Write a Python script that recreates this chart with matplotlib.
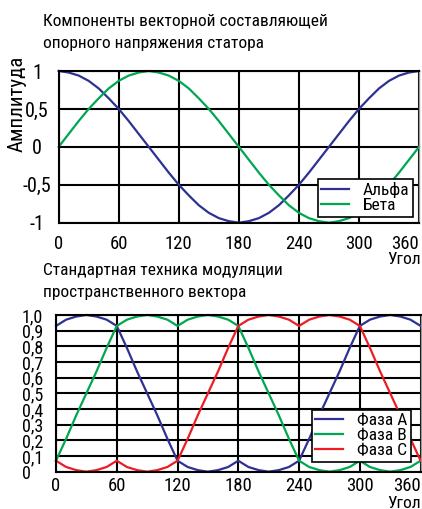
import matplotlib
matplotlib.use("Agg")
import matplotlib.pyplot as plt
from matplotlib import font_manager as fm

# pick a condensed sans with Cyrillic glyphs, whichever is installed
available = set(fm.fontManager.get_font_names())
narrow = [f for f in ["Roboto Condensed", "PT Sans Narrow", "Fira Sans Condensed",
                      "IBM Plex Sans Condensed", "Liberation Sans Narrow",
                      "Open Sans Condensed", "Arimo"] if f in available]
plt.rcParams["font.family"] = narrow[:1] + ["DejaVu Sans"]

# angles, 10 degree steps
angle = list(range(0, 361, 10))

# top panel: vector components of the stator reference voltage
alpha = [1.00, 0.98, 0.94, 0.87, 0.77, 0.64, 0.50, 0.34, 0.17, 0.00,
         -0.17, -0.34, -0.50, -0.64, -0.77, -0.87, -0.94, -0.98, -1.00,
         -0.98, -0.94, -0.87, -0.77, -0.64, -0.50, -0.34, -0.17, 0.00,
         0.17, 0.34, 0.50, 0.64, 0.77, 0.87, 0.94, 0.98, 1.00]
beta = [0.00, 0.17, 0.34, 0.50, 0.64, 0.77, 0.87, 0.94, 0.98, 1.00,
        0.98, 0.94, 0.87, 0.77, 0.64, 0.50, 0.34, 0.17, 0.00,
        -0.17, -0.34, -0.50, -0.64, -0.77, -0.87, -0.94, -0.98, -1.00,
        -0.98, -0.94, -0.87, -0.77, -0.64, -0.50, -0.34, -0.17, 0.00]

# bottom panel: space vector modulation phases
phase_a = [0.93, 0.97, 0.99, 1.00, 0.99, 0.97, 0.93, 0.79, 0.64, 0.50,
           0.36, 0.21, 0.07, 0.03, 0.01, 0.00, 0.01, 0.03, 0.07,
           0.03, 0.01, 0.00, 0.01, 0.03, 0.07, 0.21, 0.36, 0.50,
           0.64, 0.79, 0.93, 0.97, 0.99, 1.00, 0.99, 0.97, 0.93]
phase_b = [0.07, 0.21, 0.36, 0.50, 0.64, 0.79, 0.93, 0.97, 0.99, 1.00,
           0.99, 0.97, 0.93, 0.97, 0.99, 1.00, 0.99, 0.97, 0.93,
           0.79, 0.64, 0.50, 0.36, 0.21, 0.07, 0.03, 0.01, 0.00,
           0.01, 0.03, 0.07, 0.03, 0.01, 0.00, 0.01, 0.03, 0.07]
phase_c = [0.07, 0.03, 0.01, 0.00, 0.01, 0.03, 0.07, 0.03, 0.01, 0.00,
           0.01, 0.03, 0.07, 0.21, 0.36, 0.50, 0.64, 0.79, 0.93,
           0.97, 0.99, 1.00, 0.99, 0.97, 0.93, 0.97, 0.99, 1.00,
           0.99, 0.97, 0.93, 0.79, 0.64, 0.50, 0.36, 0.21, 0.07]

x_ticks = [0, 60, 120, 180, 240, 300, 360]
top_yticks = [-1, -0.5, 0, 0.5, 1]
top_ylabels = ["-1", "-0,5", "0", "0,5", "1"]
bot_yticks = [i / 10 for i in range(11)]
bot_ylabels = ["0"] + ["0,%d" % i for i in range(1, 10)] + ["1,0"]

BLUE = "#2e3192"
GREEN = "#00a651"
RED = "#ed1c24"

fig = plt.figure(figsize=(4.22, 5.09), dpi=100)


def style_axes(ax, yticks, ylabels, ylim):
    ax.set_xlim(0, 360)
    ax.set_ylim(*ylim)
    ax.set_xticks(x_ticks)
    ax.set_yticks(yticks)
    ax.set_yticklabels(ylabels)
    ax.grid(True, color="black", linewidth=1.5)
    ax.set_axisbelow(True)
    ax.tick_params(length=0)
    for side in ["left", "top", "bottom"]:
        ax.spines[side].set_linewidth(1.5)
        ax.spines[side].set_color("black")
    ax.spines["right"].set_color("#999999")
    ax.spines["right"].set_linewidth(1.0)
    ax.get_xticklabels()[-1].set_ha("right")
    ax.get_xticklabels()[-1].set_x(362)


def add_legend(ax, anchor):
    leg = ax.legend(loc="lower right", bbox_to_anchor=anchor, borderaxespad=0,
                    fontsize=12.5, fancybox=False, framealpha=1,
                    edgecolor="black", handlelength=1.6, labelspacing=0.0,
                    borderpad=0.2, handletextpad=0.8)
    leg.get_frame().set_linewidth(1.2)


# ---- top panel
ax1 = fig.add_axes([0.139, 0.5625, 0.854, 0.298])
ax1.plot(angle, alpha, color=BLUE, linewidth=1.6, label="Альфа", clip_on=False)
ax1.plot(angle, beta, color=GREEN, linewidth=1.6, label="Бета", clip_on=False)
style_axes(ax1, top_yticks, top_ylabels, (-1, 1))
ax1.tick_params(axis="y", labelsize=14.5, pad=15.5)
ax1.tick_params(axis="x", labelsize=13.5, pad=9)
for lbl in ax1.get_yticklabels():
    lbl.set_ha("center")
add_legend(ax1, (0.983, 0.038))

fig.text(0.102, 1 - 14 / 509, "Компоненты векторной составляющей\nопорного напряжения статора",
         fontsize=12.5, va="top", ha="left", linespacing=1.6)
fig.text(17 / 422, 1 - 104 / 509, "Амплитуда", rotation=90, fontsize=15,
         ha="center", va="center")
fig.text(421 / 422, 1 - 259 / 509, "Угол", fontsize=12.5, ha="right", va="center")

# ---- bottom panel
ax2 = fig.add_axes([0.1327, 0.0733, 0.864, 0.3079])
ax2.plot(angle, phase_a, color=BLUE, linewidth=1.6, label="Фаза А", clip_on=False)
ax2.plot(angle, phase_b, color=GREEN, linewidth=1.6, label="Фаза В", clip_on=False)
ax2.plot(angle, phase_c, color=RED, linewidth=1.6, label="Фаза С", clip_on=False)
style_axes(ax2, bot_yticks, bot_ylabels, (0, 1))
ax2.tick_params(axis="y", labelsize=13, pad=24.5)
ax2.tick_params(axis="x", labelsize=13.5, pad=4)
for lbl in ax2.get_yticklabels():
    lbl.set_ha("left")
add_legend(ax2, (0.973, 0.062))

fig.text(0.102, 1 - 263 / 509, "Стандартная техника модуляции\nпространственного вектора",
         fontsize=12.5, va="top", ha="left", linespacing=1.6)
fig.text(421 / 422, 1 - 503 / 509, "Угол", fontsize=12.5, ha="right", va="center")

fig.savefig("out.png", dpi=100)
